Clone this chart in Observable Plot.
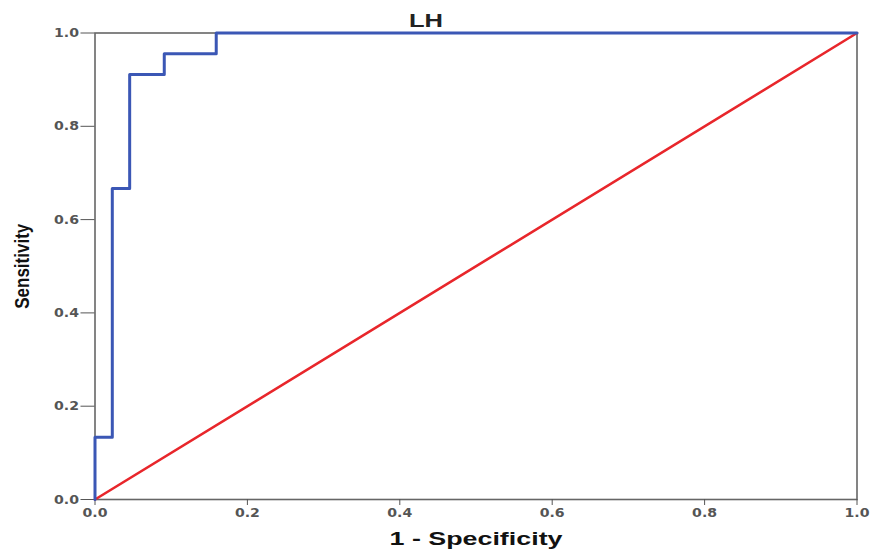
<!DOCTYPE html>
<html>
<head>
<meta charset="utf-8">
<script src="https://cdn.jsdelivr.net/npm/d3@7"></script>
<script src="https://cdn.jsdelivr.net/npm/@observablehq/plot@0.6"></script>
<style>
  html, body { margin: 0; padding: 0; background: #fff; }
</style>
</head>
<body>
<div id="chart"></div>
<script>
// ROC curve data for LH (step curve)
const fpr = [0, 0, 0.0227, 0.0227, 0.0455, 0.0455, 0.0909, 0.0909, 0.1591, 0.1591, 1.0];
const tpr = [0, 0.1333, 0.1333, 0.6667, 0.6667, 0.9111, 0.9111, 0.9556, 0.9556, 1.0, 1.0];
const refX = [0, 1];
const refY = [0, 1];
const ticks = [0, 0.2, 0.4, 0.6, 0.8, 1.0];
const title = "LH";
const xLabel = "1 - Specificity";
const yLabel = "Sensitivity";

const roc = fpr.map((x, i) => ({x, y: tpr[i]}));
const diag = refX.map((x, i) => ({x, y: refY[i]}));

const plot = Plot.plot({
  width: 872,
  height: 555,
  marginLeft: 94.5,
  marginRight: 15.5,
  marginTop: 32.5,
  marginBottom: 56,
  style: {fontFamily: "'Liberation Sans', Arial, sans-serif", background: "#fff"},
  x: {domain: [0, 1]},
  y: {domain: [0, 1]},
  marks: [
    Plot.frame({stroke: "#666", strokeWidth: 1.6}),
    Plot.axisX({ticks, tickFormat: d3.format(".1f"), tickSize: 6, tickPadding: 3, fontSize: 12.5, fontWeight: 600, color: "#555", stroke: "#555", label: null, fontFamily: "'DejaVu Sans', sans-serif"}),
    Plot.axisY({ticks, tickFormat: d3.format(".1f"), tickSize: 14, tickPadding: 2, fontSize: 12.5, fontWeight: 600, color: "#555", stroke: "#555", label: null, fontFamily: "'DejaVu Sans', sans-serif"}),
    Plot.line(diag, {x: "x", y: "y", stroke: "#e8262b", strokeWidth: 2.6}),
    Plot.line(roc, {x: "x", y: "y", stroke: "#3b57b5", strokeWidth: 3}),
    Plot.text([title], {frameAnchor: "top", dx: -50, dy: -19.5, text: d => d, fontSize: 19, fontWeight: 600, fill: "#222", className: "ttl"}),
    Plot.text([xLabel], {frameAnchor: "bottom", dy: 45, text: d => d, fontSize: 18, fontWeight: "bold", fill: "#111", className: "xlab"}),
    Plot.text([yLabel], {frameAnchor: "left", dx: -72, rotate: -90, textAnchor: "middle", text: d => d, fontSize: 20, fontWeight: "bold", fill: "#111", className: "ylab"})
  ]
});

// stretch texts to the widths seen in the reference
function fit(sel, len) {
  plot.querySelectorAll(sel).forEach(t => {
    t.setAttribute("textLength", len);
    t.setAttribute("lengthAdjust", "spacingAndGlyphs");
  });
}
fit(".ttl text", 34);
fit(".xlab text", 173);
fit(".ylab text", 85);
fit('[aria-label="x-axis tick label"] text', 25);
fit('[aria-label="y-axis tick label"] text', 25);

document.getElementById("chart").appendChild(plot);
</script>
</body>
</html>
